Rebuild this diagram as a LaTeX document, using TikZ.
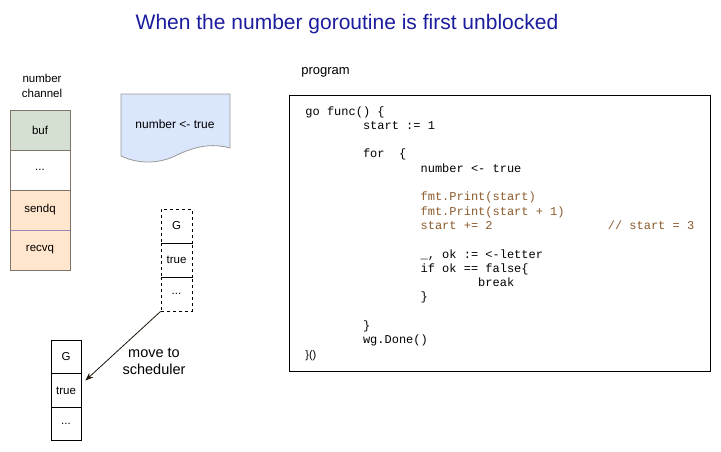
\documentclass[tikz,border=0pt]{standalone}
\usepackage{fontspec}
\setmainfont{Liberation Sans}
\setsansfont{Liberation Sans}
\setmonofont{Liberation Mono}
\usetikzlibrary{arrows.meta}
\definecolor{titleblue}{HTML}{1C1C9E}
\definecolor{bufgreen}{HTML}{D5E0D2}
\definecolor{qorange}{HTML}{FFE6CC}
\definecolor{docblue}{HTML}{DAE6FC}
\definecolor{cellline}{HTML}{7E746C}
\definecolor{qline}{HTML}{9A88B8}
\definecolor{codebrown}{HTML}{8B5A2B}
\tikzset{
  chancell/.style={draw=cellline,minimum width=60pt,minimum height=40pt,inner sep=0pt,font=\fontsize{11.5}{13}\selectfont},
  gcell/.style={draw,minimum width=31pt,minimum height=34pt,inner sep=0pt,font=\fontsize{11.5}{13}\selectfont},
  codeline/.style={anchor=base west,inner sep=0pt,font=\ttfamily\fontsize{12}{14}\selectfont},
  label/.style={inner sep=1pt,align=center},
}
\begin{document}
\begin{tikzpicture}[x=1pt,y=-1pt,line width=.8pt]
\useasboundingbox (0,0) rectangle (721,451);
\node[label,text=titleblue,font=\fontsize{21}{25}\selectfont] (title) at (347,24) {When the number goroutine is first unblocked};
% channel
\node[label,font=\fontsize{11.5}{15}\selectfont] (chanlabel) at (42,86) {number\\channel};
\node[chancell,fill=bufgreen] (buf) at (40,130) {buf};
\node[chancell,fill=white] (dots) at (40,170) {...};
\node[chancell,fill=qorange] (sendq) at (40,210) {sendq};
\node[chancell,fill=qorange] (recvq) at (40,250) {recvq};
\draw[qline] (sendq.south west) -- (sendq.south east);
% send operation
\draw[draw=gray!80,fill=docblue] (121,94) -- (230,94) -- (230,148)
  .. controls (212,143) and (195,146) .. (175,156)
  .. controls (158,164) and (138,164) .. (121,156) -- cycle;
\node[label,font=\fontsize{12}{14}\selectfont] (sendop) at (175,124) {number <- true};
% goroutine on the channel
\node[gcell,dashed] (gG) at (176.5,226) {G};
\node[gcell,dashed] (gtrue) at (176.5,260) {true};
\node[gcell,dashed] (gdots) at (176.5,294) {...};
% goroutine on the scheduler
\node[gcell,minimum width=30pt,minimum height=33.3pt] (sG) at (66,357) {G};
\node[gcell,minimum width=30pt,minimum height=33.3pt] (strue) at (66,390.5) {true};
\node[gcell,minimum width=30pt,minimum height=33.3pt] (sdots) at (66,424) {...};
\draw[-{Stealth[length=8pt,width=6pt]},draw=black!85!brown] (gdots.south west) -- ([xshift=4pt,yshift=10pt]strue.east);
\node[label,font=\fontsize{14.5}{17}\selectfont] (movelabel) at (154,361) {move to\\scheduler};
% program
\node[label,font=\fontsize{13}{15}\selectfont] (proglabel) at (325.5,72) {program};
\node[draw,line width=1pt,minimum width=421pt,minimum height=276pt] (code) at (499.5,233) {};
\foreach \row/\col/\txt/\clr [count=\i] in {
  0/0/{go func() \{}/black,
  1/8/{start := 1}/black,
  3/8/{for\ \ \{}/black,
  4/16/{number <- true}/black,
  6/16/{fmt.Print(start)}/codebrown,
  7/16/{fmt.Print(start + 1)}/codebrown,
  8/16/{start += 2}/codebrown,
  8/42/{// start = 3}/codebrown,
  10/16/{\_, ok := <-letter}/black,
  11/16/{if ok == false\{}/black,
  12/24/{break}/black,
  13/16/{\}}/black,
  15/8/{\}}/black,
  16/8/{wg.Done()}/black}
  \node[codeline,text=\clr] (line\i) at (305+\col*7.2,115+\row*14.3) {\txt};
\node[codeline,font=\fontsize{11}{13}\selectfont] (lastline) at (305,358.5) {\}()};
\end{tikzpicture}
\end{document}
